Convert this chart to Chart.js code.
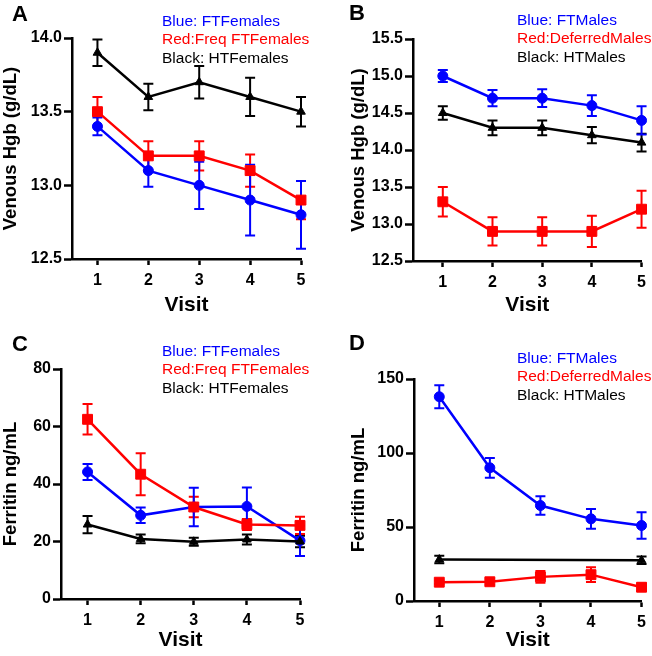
<!DOCTYPE html>
<html>
<head>
<meta charset="utf-8">
<script src="https://cdn.jsdelivr.net/npm/chart.js@4.4.1/dist/chart.umd.min.js"></script>
<style>
  html, body { margin: 0; padding: 0; background: #fff; }
  #wrap { position: relative; width: 652px; height: 656px; overflow: hidden; font-family: Arial, "Liberation Sans", sans-serif; }
  canvas { position: absolute; }
  .letter { position: absolute; font-weight: bold; font-size: 22px; line-height: 1; color: #000; }
  .leg { position: absolute; font-size: 15.5px; line-height: 18.3px; white-space: nowrap; }
  .blue { color: #0000ff; }
  .red { color: #ff0000; }
  .black { color: #000; }
</style>
</head>
<body>
<div id="wrap">
  <canvas id="chartA" width="326" height="318" style="left:0;top:0"></canvas>
  <canvas id="chartB" width="304" height="318" style="left:348px;top:0"></canvas>
  <canvas id="chartC" width="326" height="323" style="left:0;top:330px"></canvas>
  <canvas id="chartD" width="304" height="323" style="left:348px;top:330px"></canvas>

  <div class="letter" style="left:12px;top:3px">A</div>
  <div class="letter" style="left:349px;top:2px">B</div>
  <div class="letter" style="left:12px;top:333px">C</div>
  <div class="letter" style="left:349px;top:332px">D</div>

  <div class="leg" style="left:162px;top:12px"><span class="blue">Blue: FTFemales</span><br><span class="red">Red:Freq FTFemales</span><br><span class="black">Black: HTFemales</span></div>
  <div class="leg" style="left:517px;top:11px"><span class="blue">Blue: FTMales</span><br><span class="red">Red:DeferredMales</span><br><span class="black">Black: HTMales</span></div>
  <div class="leg" style="left:162px;top:342px"><span class="blue">Blue: FTFemales</span><br><span class="red">Red:Freq FTFemales</span><br><span class="black">Black: HTFemales</span></div>
  <div class="leg" style="left:517px;top:349px"><span class="blue">Blue: FTMales</span><br><span class="red">Red:DeferredMales</span><br><span class="black">Black: HTMales</span></div>
</div>

<script>
const visits = [1, 2, 3, 4, 5];

// A - venous Hgb, females
const hgbFemFT = [13.4, 13.1, 13.0, 12.9, 12.8];
const hgbFemFTErr = [0.06, 0.11, 0.16, 0.24, 0.23];
const hgbFemFreq = [13.5, 13.2, 13.2, 13.1, 12.9];
const hgbFemFreqErr = [0.1, 0.1, 0.1, 0.11, 0.13];
const hgbFemHT = [13.9, 13.6, 13.7, 13.6, 13.5];
const hgbFemHTErr = [0.09, 0.09, 0.11, 0.13, 0.1];
const hgbFemTicks = [12.5, 13.0, 13.5, 14.0];

// B - venous Hgb, males
const hgbMaleFT = [15.0, 14.7, 14.7, 14.6, 14.4];
const hgbMaleFTErr = [0.08, 0.11, 0.12, 0.14, 0.19];
const hgbMaleDef = [13.3, 12.9, 12.9, 12.9, 13.2];
const hgbMaleDefErr = [0.2, 0.19, 0.19, 0.21, 0.25];
const hgbMaleHT = [14.5, 14.3, 14.3, 14.2, 14.1];
const hgbMaleHTErr = [0.09, 0.1, 0.1, 0.11, 0.12];
const hgbMaleTicks = [12.5, 13.0, 13.5, 14.0, 14.5, 15.0, 15.5];

// C - ferritin, females
const ferFemFT = [44.2, 29.1, 32.0, 32.2, 20.3];
const ferFemFTErr = [2.8, 2.7, 6.7, 6.6, 5.3];
const ferFemFreq = [62.5, 43.4, 32.0, 25.9, 25.6];
const ferFemFreqErr = [5.3, 7.3, 3.6, 1.9, 3.0];
const ferFemHT = [25.9, 20.9, 19.9, 20.7, 20.0];
const ferFemHTErr = [3.0, 1.5, 1.4, 1.7, 2.0];
const ferFemTicks = [0, 20, 40, 60, 80];

// D - ferritin, males
const ferMaleFT = [138, 90, 64.5, 55.5, 51];
const ferMaleFTErr = [7.8, 6.7, 6.2, 6.7, 9];
const ferMaleDef = [12.7, 13, 16.3, 17.8, 9.3];
const ferMaleDefErr = [1.2, 2, 4, 5, 2.5];
const ferMaleHT = [28, null, null, null, 27.5];
const ferMaleHTErr = [2.5, 0, 0, 0, 2.5];
const ferMaleTicks = [0, 50, 100, 150];

const BLUE = 'rgb(0, 0, 255)';
const RED = 'rgb(255, 0, 0)';
const BLACK = 'rgb(0, 0, 0)';

Chart.defaults.font.family = 'Arial, "Liberation Sans", sans-serif';
Chart.defaults.color = '#000';

// draws SEM bars from each dataset's errors array
const errorBars = {
  id: 'errorBars',
  beforeDatasetsDraw(chart) {
    const ctx = chart.ctx;
    const xs = chart.scales.x, ys = chart.scales.y;
    chart.data.datasets.forEach(ds => {
      if (!ds.errors) return;
      ctx.save();
      ctx.strokeStyle = ds.borderColor;
      ctx.lineWidth = 2;
      ds.data.forEach((p, i) => {
        if (p.y === null || !ds.errors[i]) return;
        const x = xs.getPixelForValue(p.x);
        const top = ys.getPixelForValue(p.y + ds.errors[i]);
        const bot = ys.getPixelForValue(p.y - ds.errors[i]);
        ctx.beginPath();
        ctx.moveTo(x, top); ctx.lineTo(x, bot);
        ctx.moveTo(x - 5, top); ctx.lineTo(x + 5, top);
        ctx.moveTo(x - 5, bot); ctx.lineTo(x + 5, bot);
        ctx.stroke();
      });
      ctx.restore();
    });
  }
};

function series(values, errors, color, style, radius) {
  return {
    data: visits.map((v, i) => ({ x: v, y: values[i] })),
    errors: errors,
    borderColor: color,
    backgroundColor: color,
    borderWidth: 2.5,
    pointStyle: style,
    pointRadius: radius,
    pointBorderWidth: 1,
    spanGaps: true,
    clip: false,
    tension: 0
  };
}

function makePanel(id, opts) {
  new Chart(document.getElementById(id), {
    type: 'line',
    data: { datasets: opts.datasets },
    plugins: [errorBars],
    options: {
      responsive: false,
      animation: false,
      events: [],
      layout: { padding: { top: opts.padTop, right: opts.padRight, left: 0, bottom: 0 } },
      plugins: { legend: { display: false }, tooltip: { enabled: false } },
      scales: {
        x: {
          type: 'linear',
          min: opts.xMin,
          max: 5,
          afterBuildTicks: s => { s.ticks = visits.map(v => ({ value: v })); },
          afterFit: s => { s.height = opts.xHeight; },
          ticks: { font: { size: 16, weight: 'bold' }, padding: 6, color: '#000' },
          grid: { drawOnChartArea: false, drawTicks: true, tickLength: 6, tickWidth: 2.5, tickColor: '#000' },
          border: { color: '#000', width: 2.5 },
          title: { display: true, text: 'Visit', color: '#000', font: { size: 21, weight: 'bold' }, padding: 0 }
        },
        y: {
          min: opts.ticks[0],
          max: opts.ticks[opts.ticks.length - 1],
          afterBuildTicks: s => { s.ticks = opts.ticks.map(v => ({ value: v })); },
          afterFit: s => { s.width = opts.yWidth; },
          ticks: { font: { size: 16, weight: 'bold' }, padding: 2, color: '#000', callback: opts.fmt },
          grid: { drawOnChartArea: false, drawTicks: true, tickLength: 8, tickWidth: 2.5, tickColor: '#000' },
          border: { color: '#000', width: 2.5 },
          title: { display: true, text: opts.yTitle, color: '#000', font: { size: 18.5, weight: 'bold' }, padding: 0 }
        }
      }
    }
  });
}

const oneDec = v => v.toFixed(1);
const plain = v => String(v);

makePanel('chartA', {
  datasets: [
    series(hgbFemHT, hgbFemHTErr, BLACK, 'triangle', 5),
    series(hgbFemFreq, hgbFemFreqErr, RED, 'rect', 7),
    series(hgbFemFT, hgbFemFTErr, BLUE, 'circle', 5)
  ],
  ticks: hgbFemTicks, fmt: oneDec, yTitle: 'Venous Hgb (g/dL)',
  xMin: 0.5, padTop: 38, padRight: 25, yWidth: 72, xHeight: 59
});

makePanel('chartB', {
  datasets: [
    series(hgbMaleHT, hgbMaleHTErr, BLACK, 'triangle', 5),
    series(hgbMaleDef, hgbMaleDefErr, RED, 'rect', 7),
    series(hgbMaleFT, hgbMaleFTErr, BLUE, 'circle', 5)
  ],
  ticks: hgbMaleTicks, fmt: oneDec, yTitle: 'Venous Hgb (g/dL)',
  xMin: 0.4, padTop: 39, padRight: 5, yWidth: 65, xHeight: 57
});

makePanel('chartC', {
  datasets: [
    series(ferFemHT, ferFemHTErr, BLACK, 'triangle', 5),
    series(ferFemFreq, ferFemFreqErr, RED, 'rect', 7),
    series(ferFemFT, ferFemFTErr, BLUE, 'circle', 5)
  ],
  ticks: ferFemTicks, fmt: plain, yTitle: 'Ferritin ng/mL',
  xMin: 0.5, padTop: 39, padRight: 26, yWidth: 61, xHeight: 54
});

makePanel('chartD', {
  datasets: [
    series(ferMaleHT, ferMaleHTErr, BLACK, 'triangle', 5),
    series(ferMaleDef, ferMaleDefErr, RED, 'rect', 7),
    series(ferMaleFT, ferMaleFTErr, BLUE, 'circle', 5)
  ],
  ticks: ferMaleTicks, fmt: plain, yTitle: 'Ferritin ng/mL',
  xMin: 0.5, padTop: 49, padRight: 5, yWidth: 66, xHeight: 52
});
</script>
</body>
</html>
